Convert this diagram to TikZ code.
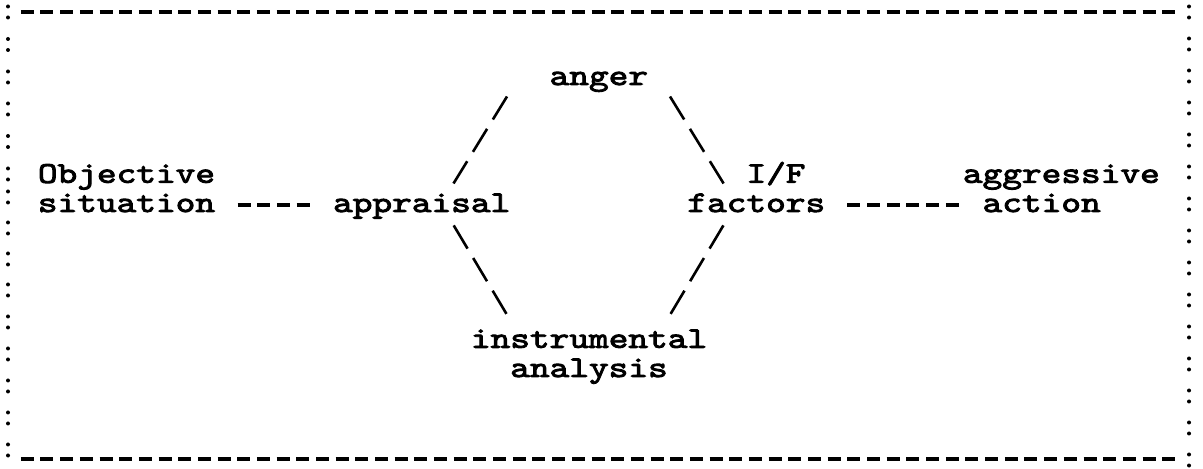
\documentclass[tikz,border=0pt]{standalone}
\usepackage{fontspec}
\newfontfamily\typefont{lmmono10-regular.otf}[FakeStretch=1.25, FakeBold=3]
\newcommand\typestyle{\typefont\fontsize{15pt}{14.6pt}\selectfont\setlength{\lineskiplimit}{-20pt}\setlength{\lineskip}{0pt}}
\begin{document}
\begin{tikzpicture}[x=0.5pt, y=-0.5pt, line cap=butt,
  every node/.style={font=\typestyle, inner sep=0pt, anchor=base west},
  typedash/.style={line width=1.6pt, dash pattern=on 6.5pt off 3.34pt},
  slashline/.style={line width=1.3pt, dash pattern=on 13.5pt off 5.5pt}]

\useasboundingbox (0,0) rectangle (1203,469);

% typed frame: dashes on top and bottom, colons down the sides
\draw[typedash] (20.8,12) -- (1176,12);
\draw[typedash] (20.8,459) -- (1176,459);
\foreach \y in {12,44.5,77,109,141.5,174,197,228,259,290,322,354,386,418,450} {
  \fill (8,\y-5.5) circle (1pt);
  \fill (8,\y+5.5) circle (1pt);
}
\foreach \y in {12,44,76,108,140,172,204,236,268,300,332,364,396,428,460} {
  \fill (1189,\y-5.5) circle (1pt);
  \fill (1189,\y+5.5) circle (1pt);
}

% the concepts (base = last line)
\node (anger) at (549.2,85) {anger};
\node[align=left] (objective) at (37.5,212) {Objective\\situation};
\node (appraisal) at (332.7,212) {appraisal};
\node[align=left] (factors) at (687,212) {\hphantom{fac}I/F\\factors};
\node[align=left] (action) at (962.5,212) {aggressive\\\hphantom{a}action};
\node[align=center] (analysis) at (470.5,377) {instrumental\\analysis};

% the links
\draw[typedash] ([shift={(200,-7)}]objective.base west) -- ([shift={(-22.7,-7)}]appraisal.base west);
\draw[typedash] ([shift={(160.4,-7)}]factors.base west) -- ([shift={(-3,-7)}]action.base west);
\draw[slashline] ([shift={(-42.2,11.5)}]anger.base west) -- ([shift={(120.8,-28.5)}]appraisal.base west);
\draw[slashline] ([shift={(120.8,11.5)}]anger.base west) -- ([shift={(36.6,-28.5)}]factors.base west);
\draw[slashline] ([shift={(121,13.4)}]appraisal.base west) -- ([shift={(36.4,-62.4)}]analysis.base west);
\draw[slashline] ([shift={(36.4,13.4)}]factors.base west) -- ([shift={(199.7,-62.4)}]analysis.base west);

\end{tikzpicture}
\end{document}
